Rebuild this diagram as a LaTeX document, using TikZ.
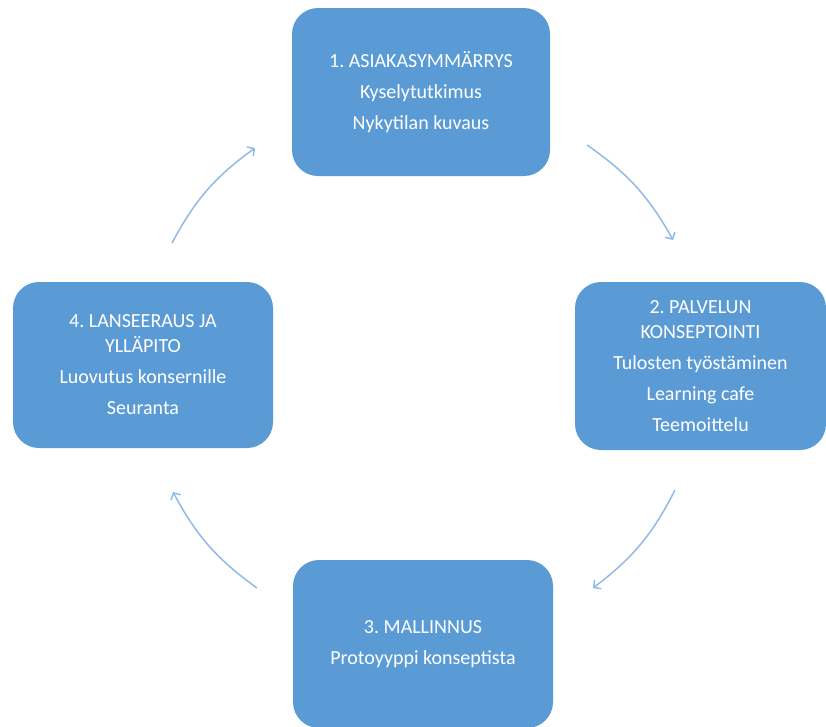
\documentclass[tikz,border=0pt]{standalone}
\usepackage{fontspec}
\setmainfont{Carlito}
\usetikzlibrary{arrows.meta, positioning}
\definecolor{phaseblue}{HTML}{5B9BD5}
\definecolor{arrowblue}{HTML}{8FBBE6}
\frenchspacing

\begin{document}
\begin{tikzpicture}[
    x=1pt, y=-1pt,
    every node/.style={font=\fontsize{20}{25}\selectfont},
    phase/.style={rectangle, fill=phaseblue, rounded corners=26pt, text=white, align=center, inner sep=0pt},
    cyclearrow/.style={-{Straight Barb[length=5pt, width=11pt]}, arrowblue, line width=1.5pt}
]
\useasboundingbox (0,0) rectangle (826,726);

% Phase 1
\node (asiakas) [phase, minimum width=258pt, minimum height=168pt] at (421,92) {1. ASIAKASYMMÄRRYS\\[6pt]Kyselytutkimus\\[6pt]Nykytilan kuvaus};

% Phase 2
\node (palvelu) [phase, minimum width=251pt, minimum height=168pt] at (700.5,366) {2. PALVELUN\\KONSEPTOINTI\\[6pt]Tulosten työstäminen\\[6pt]Learning cafe\\[6pt]Teemoittelu};

% Phase 3
\node (mallinnus) [phase, minimum width=260pt, minimum height=168pt] at (423,644) {3. MALLINNUS\\[6pt]Protoyyppi konseptista};

% Phase 4
\node (lanseeraus) [phase, minimum width=260pt, minimum height=166pt] at (143,365) {4. LANSEERAUS JA\\YLLÄPITO\\[6pt]Luovutus konsernille\\[6pt]Seuranta};

% Arrow ends
\coordinate (a1s) at (587,145);
\coordinate (a1e) at (673,240);
\coordinate (a2s) at (675,490);
\coordinate (a2e) at (593,588);
\coordinate (a3s) at (257,588);
\coordinate (a3e) at (173,492);
\coordinate (a4s) at (172,243);
\coordinate (a4e) at (255,148);

% Arrows
\draw [cyclearrow] (a1s) to[bend left=13] (a1e);
\draw [cyclearrow] (a2s) to[bend left=13] (a2e);
\draw [cyclearrow] (a3s) to[bend left=13] (a3e);
\draw [cyclearrow] (a4s) to[bend left=13] (a4e);

\end{tikzpicture}
\end{document}
